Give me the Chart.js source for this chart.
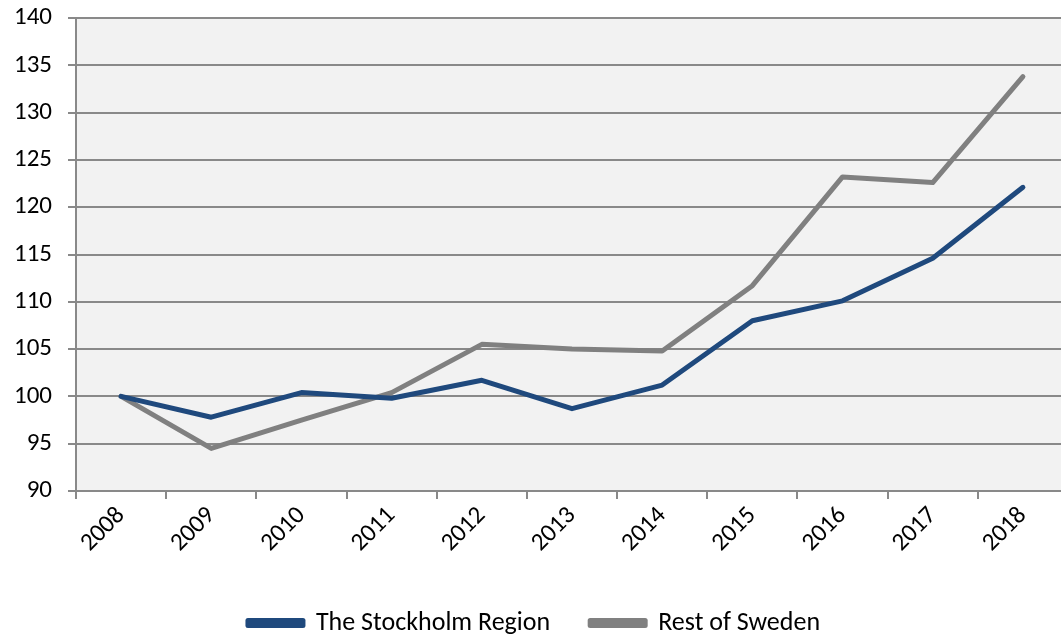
<!DOCTYPE html>
<html>
<head>
<meta charset="utf-8">
<script src="https://cdn.jsdelivr.net/npm/chart.js@4/dist/chart.umd.min.js"></script>
<style>
  html, body { margin: 0; padding: 0; background: #ffffff; overflow: hidden; }
  /* plot runs a few px past the right edge in the original, so the canvas is wider and clipped */
  #wrap { width: 1061px; height: 635px; overflow: hidden; }
</style>
</head>
<body>
<div id="wrap"><canvas id="chart" width="1068" height="635"></canvas></div>
<script>
const years = ["2008", "2009", "2010", "2011", "2012", "2013", "2014", "2015", "2016", "2017", "2018"];
const stockholm = [100, 97.8, 100.4, 99.8, 101.7, 98.7, 101.2, 108.0, 110.1, 114.6, 122.1];
const restOfSweden = [100, 94.5, 97.5, 100.4, 105.5, 105.0, 104.8, 111.7, 123.2, 122.6, 133.8];
const yMin = 90;
const yMax = 140;
const yStep = 5;

const FONT = "Calibri, Carlito, Lato, sans-serif";

// grey fill behind the plot area
const plotBackground = {
  id: "plotBackground",
  beforeDraw(chart) {
    const { ctx, chartArea } = chart;
    ctx.save();
    ctx.fillStyle = "#f2f2f2";
    ctx.fillRect(chartArea.left, chartArea.top, chartArea.right - chartArea.left, chartArea.bottom - chartArea.top);
    ctx.restore();
  },
};

new Chart(document.getElementById("chart"), {
  type: "line",
  data: {
    labels: years,
    datasets: [
      {
        label: "The Stockholm Region",
        data: stockholm,
        borderColor: "#1f497d",
        backgroundColor: "#1f497d",
        borderWidth: 5,
        borderCapStyle: "round",
        borderJoinStyle: "round",
        pointRadius: 0,
        tension: 0,
      },
      {
        label: "Rest of Sweden",
        data: restOfSweden,
        borderColor: "#808080",
        backgroundColor: "#808080",
        borderWidth: 5,
        borderCapStyle: "round",
        borderJoinStyle: "round",
        pointRadius: 0,
        tension: 0,
      },
    ],
  },
  options: {
    responsive: false,
    animation: false,
    layout: { padding: { top: 18, right: 0, left: 0, bottom: 0 } },
    plugins: {
      legend: {
        display: true,
        position: "bottom",
        maxHeight: 65,
        labels: {
          boxWidth: 55,
          boxHeight: 5,
          padding: 40,
          color: "#000000",
          font: { family: FONT, size: 26 },
        },
      },
      tooltip: { enabled: false },
    },
    scales: {
      x: {
        offset: true,
        afterFit: function (scale) {
          scale.height = 79;
        },
        grid: {
          offset: true,
          drawOnChartArea: false,
          drawTicks: true,
          tickLength: 8,
          color: "#898989",
          lineWidth: 2,
        },
        border: { color: "#898989", width: 2 },
        ticks: {
          maxRotation: 45,
          minRotation: 45,
          padding: 2,
          color: "#000000",
          font: { family: FONT, size: 25 },
        },
      },
      y: {
        min: yMin,
        max: yMax,
        afterFit: function (scale) {
          scale.width = 76;
          // top label may overhang the plot, like the original
          scale.paddingTop = 0;
          scale.paddingBottom = 0;
        },
        grid: {
          color: "#898989",
          lineWidth: 2,
          tickLength: 8,
        },
        border: { color: "#898989", width: 2 },
        ticks: {
          stepSize: yStep,
          padding: 16,
          color: "#000000",
          font: { family: FONT, size: 25 },
        },
      },
    },
  },
  plugins: [plotBackground],
});
</script>
</body>
</html>
